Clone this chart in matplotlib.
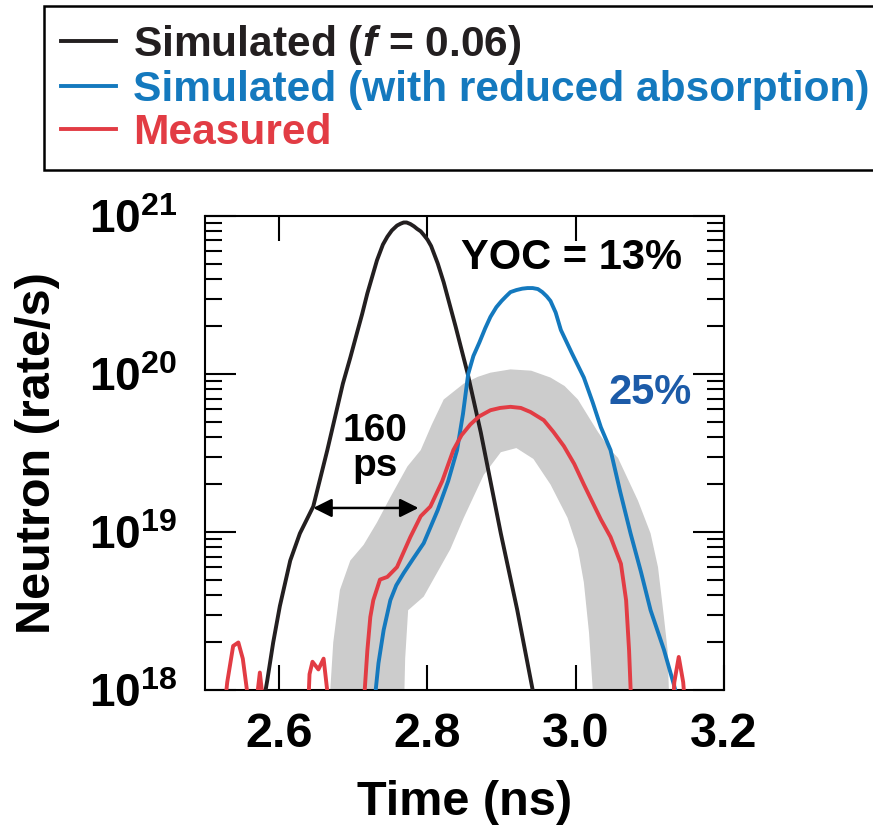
import numpy as np
import matplotlib
matplotlib.use('Agg')
import matplotlib.pyplot as plt

plt.rcParams['font.family'] = ['Liberation Sans', 'DejaVu Sans']
plt.rcParams['font.weight'] = 'bold'
plt.rcParams['mathtext.fontset'] = 'custom'
plt.rcParams['mathtext.rm'] = 'Liberation Sans:bold'
plt.rcParams['mathtext.bf'] = 'Liberation Sans:bold'
plt.rcParams['mathtext.it'] = 'Liberation Sans:italic:bold'
plt.rcParams['mathtext.bfit'] = 'Liberation Sans:italic:bold'

# simulated (f = 0.06)
sim_t = [2.578, 2.584, 2.592, 2.601, 2.615, 2.628, 2.646, 2.665, 2.686, 2.696, 2.705, 2.712, 2.719,
         2.726, 2.732, 2.740, 2.746, 2.752, 2.759, 2.764, 2.768, 2.772, 2.777, 2.782, 2.786, 2.791,
         2.795, 2.800, 2.805, 2.814, 2.822, 2.838, 2.854, 2.872, 2.899, 2.921, 2.942, 2.946]
sim_n = [7.9e17, 1.15e18, 2.0e18, 3.4e18, 6.6e18, 9.8e18, 1.45e19, 3.3e19, 8.7e19, 1.27e20, 1.82e20, 2.4e20, 3.24e20,
         4.2e20, 5.25e20, 6.6e20, 7.4e20, 8.1e20, 8.7e20, 8.95e20, 9.1e20, 9.1e20, 8.9e20, 8.6e20, 8.3e20, 8.0e20,
         7.6e20, 7.1e20, 6.46e20, 5.0e20, 3.8e20, 2.0e20, 1.02e20, 4.27e19, 9.8e18, 3.24e18, 1.0e18, 6.3e17]

# simulated with reduced absorption
abs_t = [2.728, 2.734, 2.741, 2.750, 2.758, 2.768, 2.781, 2.795, 2.814, 2.828, 2.840, 2.848, 2.855,
         2.862, 2.870, 2.878, 2.885, 2.893, 2.900, 2.906, 2.912, 2.920, 2.928, 2.935, 2.942, 2.949,
         2.955, 2.961, 2.966, 2.973, 2.980, 2.995, 3.011, 3.023, 3.034, 3.047, 3.060, 3.074, 3.088,
         3.101, 3.119, 3.132, 3.140]
abs_n = [7.9e17, 1.48e18, 2.4e18, 3.7e18, 4.6e18, 5.5e18, 6.8e18, 8.5e18, 1.38e19, 2.1e19, 3.3e19, 5.6e19, 1.0e20,
         1.3e20, 1.58e20, 1.95e20, 2.3e20, 2.65e20, 2.9e20, 3.1e20, 3.3e20, 3.4e20, 3.47e20, 3.5e20, 3.5e20, 3.45e20,
         3.3e20, 3.1e20, 2.9e20, 2.45e20, 1.9e20, 1.35e20, 9.5e19, 6.6e19, 4.6e19, 3.3e19, 1.8e19, 9.8e18, 5.6e18,
         3.2e18, 1.8e18, 1.1e18, 7.9e17]

# measured
meas_t = [2.518, 2.530, 2.538, 2.545, 2.551, 2.558, 2.565, 2.570, 2.574, 2.579, 2.586,
          2.636, 2.641, 2.645, 2.653, 2.660, 2.666, 2.672, 2.705,
          2.714, 2.719, 2.723, 2.727, 2.736, 2.746, 2.759, 2.777, 2.791, 2.804, 2.820, 2.835,
          2.846, 2.858, 2.870, 2.885, 2.898, 2.912, 2.926, 2.939, 2.957, 2.970, 2.984, 2.998, 3.011,
          3.034, 3.047, 3.061, 3.068, 3.072, 3.075, 3.085, 3.127, 3.133, 3.139, 3.145, 3.151, 3.16]
meas_n = [3.2e17, 1.12e18, 1.9e18, 2.0e18, 1.58e18, 8.9e17, 4.0e17, 8.9e17, 1.29e18, 7.9e17, 3.2e17,
          3.2e17, 1.26e18, 1.51e18, 1.35e18, 1.58e18, 8.9e17, 3.2e17, 3.2e17,
          7.9e17, 1.78e18, 2.9e18, 3.7e18, 5.0e18, 5.2e18, 6.0e18, 9.3e18, 1.26e19, 1.45e19, 2.1e19, 3.3e19,
          4.1e19, 4.8e19, 5.4e19, 5.9e19, 6.1e19, 6.2e19, 6.1e19, 5.75e19, 5.1e19, 4.3e19, 3.5e19, 2.7e19, 2.0e19,
          1.2e19, 9.3e18, 6.3e18, 3.7e18, 1.78e18, 7.9e17, 3.2e17, 3.2e17, 1.12e18, 1.62e18, 1.12e18, 5.0e17, 3.2e17]

# uncertainty band of the measurement (outer edge left->right, inner edge right->left)
band_outer_t = [2.667, 2.669, 2.673, 2.682, 2.696, 2.714, 2.732, 2.750, 2.773, 2.791, 2.806, 2.822, 2.849, 2.868,
                2.885, 2.912, 2.940, 2.966, 2.985, 3.003, 3.030, 3.047, 3.057, 3.084, 3.101, 3.111, 3.119, 3.124,
                3.127]
band_outer_n = [6.3e17, 1.0e18, 2.0e18, 4.3e18, 6.6e18, 8.3e18, 1.15e19, 1.66e19, 2.6e19, 3.3e19, 4.8e19, 6.9e19, 8.7e19,
                9.6e19, 1.02e20, 1.07e20, 1.05e20, 9.5e19, 8.4e19, 6.9e19, 4.3e19, 3.3e19, 2.95e19, 1.58e19, 9.8e18,
                6.0e18, 2.9e18, 1.78e18, 6.3e17]
band_inner_t = [3.024, 3.023, 3.018, 3.011, 3.003, 2.989, 2.966, 2.943, 2.920, 2.899, 2.876, 2.849, 2.831,
                2.795, 2.774, 2.770, 2.768]
band_inner_n = [6.3e17, 1.0e18, 2.3e18, 4.8e18, 7.8e18, 1.23e19, 2.0e19, 2.9e19, 3.4e19, 3.2e19, 2.3e19, 1.23e19, 7.8e18,
                3.9e18, 3.2e18, 1.58e18, 6.3e17]

labels = ['Simulated ($\\mathbfit{f}$ = 0.06)', 'Simulated (with reduced absorption)', 'Measured']
colors = ['#231f20', '#1479be', '#e23c44']
xticks = [2.6, 2.8, 3.0, 3.2]
xticklabels = ['2.6', '2.8', '3.0', '3.2']
yticks = [1e18, 1e19, 1e20, 1e21]
yticklabels = [r'$\mathbf{10^{18}}$', r'$\mathbf{10^{19}}$', r'$\mathbf{10^{20}}$', r'$\mathbf{10^{21}}$']

fig = plt.figure(figsize=(8.73, 8.36), dpi=100)
ax = fig.add_axes([0.2348, 0.1746, 0.5945, 0.5670])

ax.fill(np.concatenate([band_outer_t, band_inner_t]), np.concatenate([band_outer_n, band_inner_n]),
        color='#cccccc', lw=0, zorder=1)
l1, = ax.plot(sim_t, sim_n, color=colors[0], lw=2.8, zorder=3, solid_joinstyle='round')
l2, = ax.plot(abs_t, abs_n, color=colors[1], lw=2.8, zorder=3, solid_joinstyle='round')
l3, = ax.plot(meas_t, meas_n, color=colors[2], lw=2.8, zorder=4, solid_joinstyle='round')

ax.set_yscale('log')
ax.set_xlim(2.5, 3.2)
ax.set_ylim(1e18, 1e21)
ax.set_xticks(xticks)
ax.set_xticklabels(xticklabels)
ax.set_yticks(yticks)
ax.set_yticklabels(yticklabels)
ax.yaxis.set_minor_formatter(matplotlib.ticker.NullFormatter())
ax.tick_params(axis='x', which='major', direction='in', length=18, width=1.5, top=True,
               labelsize=35, pad=16)
ax.tick_params(axis='x', which='minor', bottom=False, top=False)
ax.tick_params(axis='y', which='major', direction='in', length=22, width=1.5, right=True,
               labelsize=33, pad=20)
ax.tick_params(axis='y', which='minor', direction='in', length=12, width=1.5, right=True)
for s in ax.spines.values():
    s.set_linewidth(1.5)

ax.set_ylabel('Neutron (rate/s)', fontsize=35, fontweight='bold')
ax.yaxis.set_label_coords(-0.279, 0.5)
ax.set_xlabel('Time (ns)', fontsize=35, fontweight='bold')
ax.xaxis.set_label_coords(0.5, -0.19)

# annotations
ax.text(2.995, 5.4e20, 'YOC = 13%', fontsize=30, ha='center', va='center', color='black')
ax.text(3.100, 7.6e19, '25%', fontsize=30, ha='center', va='center', color='#1c5ba8')
ax.text(2.729, 2.26e19, '160\nps', fontsize=28, ha='center', va='baseline',
        multialignment='center', linespacing=0.95)
ax.annotate('', xy=(2.646, 1.42e19), xytext=(2.788, 1.42e19),
            arrowprops=dict(arrowstyle='<|-|>', color='black', lw=1.8, mutation_scale=28,
                            shrinkA=0, shrinkB=0))

leg = fig.legend([l1, l2, l3], labels, loc='upper left',
                 bbox_to_anchor=(44/873, 0.7967, 0.99, 0.1961), mode='expand', borderaxespad=0,
                 prop={'size': 30.6, 'weight': 'bold'}, handlelength=1.29, handletextpad=0.4,
                 borderpad=0.4, labelspacing=0.07, labelcolor='linecolor', fancybox=False,
                 framealpha=1)
leg.get_frame().set_edgecolor('black')
leg.get_frame().set_linewidth(1.8)

fig.savefig('out.png', dpi=100)
